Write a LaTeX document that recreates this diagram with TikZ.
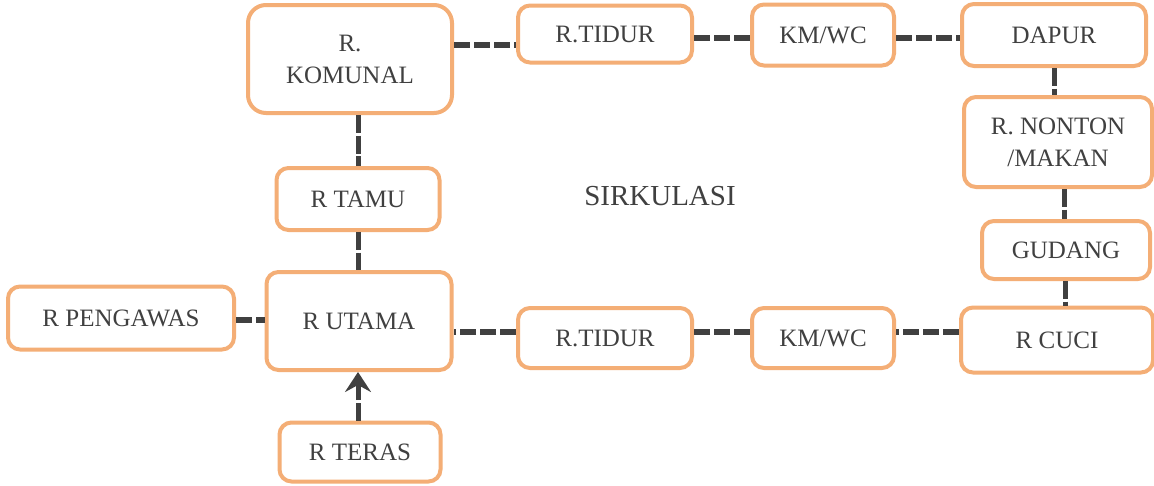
\documentclass[tikz,border=0pt]{standalone}
\usepackage{fontspec}
\setmainfont{Liberation Serif}
\usetikzlibrary{arrows.meta}
\definecolor{boxorange}{HTML}{F4AE76}
\definecolor{ink}{HTML}{404040}
\tikzset{
  room/.style={draw=boxorange, line width=4pt, rounded corners=12pt, fill=white,
    text=ink, align=center, inner sep=0pt,
    font=\fontsize{25}{32}\selectfont},
  link/.style={draw=ink, line width=5.5pt, dash pattern=on 16pt off 4pt},
  vlink/.style={draw=ink, line width=5pt, dash pattern=on 18pt off 2.5pt},
}
\begin{document}
\begin{tikzpicture}[x=1pt,y=-1pt]
\useasboundingbox (0,0) rectangle (1154,485);
\fill[white] (0,0) rectangle (1154,485);
% nodes
\node[room, minimum width=204pt, minimum height=108pt, rounded corners=18pt] (komunal) at (350,59) {R.\\KOMUNAL};
\node[room, minimum width=174pt, minimum height=57pt] (tidur1) at (605,34) {R.TIDUR};
\node[room, minimum width=142pt, minimum height=61pt] (kmwc1) at (823,35) {KM/WC};
\node[room, minimum width=184pt, minimum height=62pt] (dapur) at (1054,35) {DAPUR};
\node[room, minimum width=188pt, minimum height=90pt] (nonton) at (1058,142) {R. NONTON\\/MAKAN};
\node[room, minimum width=168pt, minimum height=58pt] (gudang) at (1066,250) {GUDANG};
\node[room, minimum width=192pt, minimum height=65pt] (cuci) at (1057,340) {R CUCI};
\node[room, minimum width=142pt, minimum height=60pt] (kmwc2) at (823,338) {KM/WC};
\node[room, minimum width=174pt, minimum height=60pt] (tidur2) at (605,338) {R.TIDUR};
\node[room, minimum width=185pt, minimum height=98pt] (utama) at (359,321) {R UTAMA};
\node[room, minimum width=226pt, minimum height=63pt] (pengawas) at (121,318) {R PENGAWAS};
\node[room, minimum width=161pt, minimum height=59pt] (teras) at (360,452) {R TERAS};
\node[room, minimum width=163pt, minimum height=62pt] (tamu) at (358,199) {R TAMU};
\node[text=ink, font=\fontsize{29}{34}\selectfont] (sirk) at (660,196) {SIRKULASI};
% connectors
\draw[link] (komunal.east |- 0,45) -- (tidur1.west |- 0,45);
\draw[link] (tidur1.east |- 0,38) -- (kmwc1.west |- 0,38);
\draw[link] (kmwc1.east |- 0,38) -- (dapur.west |- 0,38);
\draw[vlink] (dapur.south) -- (nonton.north -| dapur.south);
\draw[vlink] (nonton.south -| 1064,0) -- (gudang.north -| 1064,0);
\draw[vlink] (gudang.south -| 1065,0) -- (cuci.north -| 1065,0);
\draw[link] (cuci.west |- 0,332) -- (kmwc2.east |- 0,332);
\draw[link] (kmwc2.west |- 0,332) -- (tidur2.east |- 0,332);
\draw[link] (tidur2.west |- 0,332) -- (utama.east |- 0,332);
\draw[link] (pengawas.east |- 0,320) -- (utama.west |- 0,320);
\draw[vlink] (komunal.south -| 358,0) -- (tamu.north -| 358,0);
\draw[vlink] (tamu.south -| 358,0) -- (utama.north -| 358,0);
\draw[vlink, -{Stealth[length=20pt,width=26pt,inset=7pt]}] (teras.north -| 358,0) -- (utama.south -| 358,0);
\end{tikzpicture}
\end{document}
